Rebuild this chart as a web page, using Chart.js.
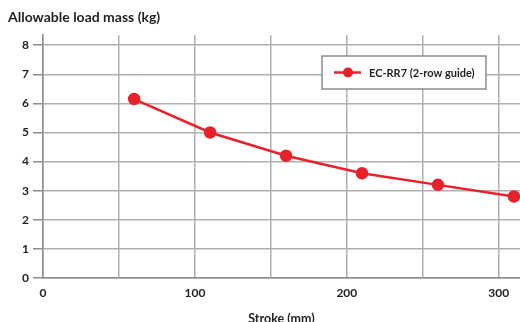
<!DOCTYPE html>
<html>
<head>
<meta charset="utf-8">
<script src="https://cdn.jsdelivr.net/npm/chart.js@4.4.1/dist/chart.umd.min.js"></script>
<style>
  html, body { margin: 0; padding: 0; background: #fff; }
  #wrap { width: 520px; height: 322px; position: relative; }
</style>
</head>
<body>
<div id="wrap"><canvas id="chart"></canvas></div>
<script>
// data
const strokes = [60, 110, 160, 210, 260, 310];
const loadMass = [6.15, 5.0, 4.2, 3.6, 3.2, 2.8];
const seriesName = 'EC-RR7 (2-row guide)';
const xTickLabels = [0, 100, 200, 300];
const yTickLabels = [0, 1, 2, 3, 4, 5, 6, 7, 8];

const RED = '#e8212b';
const GRID = '#b0b0b0';
const AXIS = '#8c8c8c';
const TEXT = '#231f20';
const FONT = 'Lato, "Open Sans", sans-serif';

// legend drawn as a boxed entry inside the plot area
const boxLegend = {
  id: 'boxLegend',
  afterDraw(chart) {
    const { ctx, chartArea } = chart;
    const ds = chart.data.datasets[0];
    const w = 164, h = 33;
    const x = chartArea.right - 34 - w;
    const y = chartArea.top + 21;
    ctx.save();
    ctx.fillStyle = '#fff';
    ctx.fillRect(x, y, w, h);
    ctx.strokeStyle = AXIS;
    ctx.lineWidth = 1.5;
    ctx.strokeRect(x, y, w, h);
    const cy = y + h / 2;
    ctx.strokeStyle = ds.borderColor;
    ctx.lineWidth = 2.5;
    ctx.beginPath();
    ctx.moveTo(x + 12, cy);
    ctx.lineTo(x + 39, cy);
    ctx.stroke();
    ctx.fillStyle = ds.pointBackgroundColor;
    ctx.beginPath();
    ctx.arc(x + 26, cy, 5, 0, Math.PI * 2);
    ctx.fill();
    ctx.fillStyle = TEXT;
    ctx.font = 'bold 11px ' + FONT;
    ctx.textBaseline = 'middle';
    ctx.fillText(ds.label, x + 47, cy + 0.5);
    ctx.restore();
  }
};

new Chart(document.getElementById('chart'), {
  type: 'line',
  data: {
    datasets: [{
      label: seriesName,
      data: strokes.map((s, i) => ({ x: s, y: loadMass[i] })),
      borderColor: RED,
      backgroundColor: RED,
      pointBackgroundColor: RED,
      pointBorderColor: RED,
      borderWidth: 2.5,
      pointRadius: 5,
      tension: 0,
      clip: false
    }]
  },
  options: {
    responsive: true,
    maintainAspectRatio: false,
    animation: false,
    layout: { autoPadding: false, padding: { left: 8, right: 0, top: 0, bottom: 0 } },
    plugins: {
      legend: { display: false },
      tooltip: { enabled: false },
      title: {
        display: true,
        text: 'Allowable load mass (kg)',
        align: 'start',
        color: TEXT,
        font: { family: FONT, size: 14, weight: 'bold' },
        padding: { top: 9, bottom: 9.2 }
      }
    },
    scales: {
      x: {
        type: 'linear',
        min: 0,
        max: 314,
        afterBuildTicks: (scale) => {
          scale.ticks = scale.ticks.filter(t => t.value % 50 === 0);
        },
        afterFit: (scale) => { scale.height = 44; },
        ticks: {
          stepSize: 50,
          includeBounds: false,
          padding: 8,
          color: TEXT,
          font: { family: FONT, size: 12, weight: 'bold' },
          maxRotation: 0,
          autoSkip: false,
          callback: (v) => xTickLabels.includes(v) ? String(v) : ''
        },
        grid: { color: GRID, lineWidth: 1.5, drawTicks: false },
        border: { color: AXIS, width: 1.5 },
        title: {
          display: true,
          text: 'Stroke (mm)',
          color: TEXT,
          font: { family: FONT, size: 12.5, weight: 'bold' },
          padding: { top: 0, bottom: -4 }
        }
      },
      y: {
        min: 0,
        max: 8.35,
        afterBuildTicks: (scale) => {
          scale.ticks = scale.ticks.filter(t => yTickLabels.includes(t.value));
        },
        afterFit: (scale) => { scale.width = 35; },
        ticks: {
          stepSize: 1,
          includeBounds: false,
          padding: 4,
          color: TEXT,
          font: { family: FONT, size: 12, weight: 'bold' }
        },
        grid: { color: GRID, lineWidth: 1.5, tickLength: 10, tickColor: AXIS },
        border: { color: AXIS, width: 1.5 }
      }
    }
  },
  plugins: [boxLegend]
});
</script>
</body>
</html>
